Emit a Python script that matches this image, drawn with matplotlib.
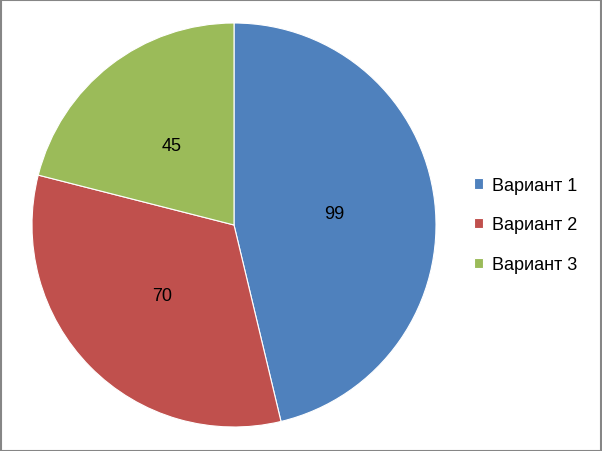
import matplotlib
matplotlib.use("Agg")
import matplotlib.pyplot as plt
from matplotlib.patches import Rectangle

labels = ["Вариант 1", "Вариант 2", "Вариант 3"]
values = [99, 70, 45]
colors = ["#4F81BD", "#C0504D", "#9BBB59"]

plt.rcParams["font.family"] = ["Liberation Sans", "DejaVu Sans"]

fig = plt.figure(figsize=(6.02, 4.52), dpi=100)
W, H = 602, 452
cx, cy, r = 234, 226, 202
ax = fig.add_axes([(cx - r) / W, (H - cy - r) / H, 2 * r / W, 2 * r / H])

wedges, texts = ax.pie(values, colors=colors, startangle=90, counterclock=False,
                       labels=[str(v) for v in values], labeldistance=0.5,
                       wedgeprops=dict(edgecolor="white", linewidth=0.8),
                       textprops=dict(fontsize=13, color="black"))
for t in texts:
    t.set_ha("center")
    t.set_va("center")
ax.set_xlim(-1, 1)
ax.set_ylim(-1, 1)
ax.set_aspect("equal")
ax.axis("off")

fig.legend(wedges, labels, loc="center left", bbox_to_anchor=(458 / W, 1 - 226 / H),
           frameon=False, fontsize=13, handlelength=0.5, handleheight=0.5,
           handletextpad=0.5, labelspacing=1.25)

# grey frame round the chart area
fig.patches.append(Rectangle((0.5 / W, 0.5 / H), 1 - 1.5 / W, 1 - 1.5 / H,
                             transform=fig.transFigure, fill=False,
                             edgecolor="#868686", linewidth=1.5))

fig.savefig("out.png", dpi=100)
